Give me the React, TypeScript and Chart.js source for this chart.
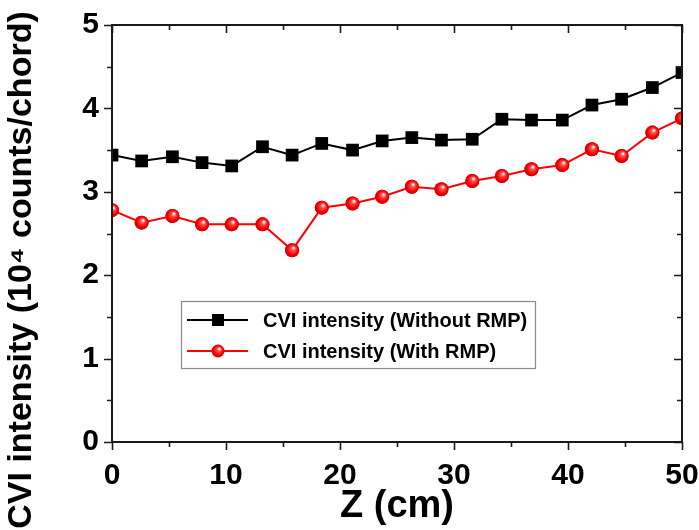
import React, { useEffect, useRef } from "react";
import { Chart, registerables } from "chart.js";

Chart.register(...registerables);

const zValues = [0, 2.6, 5.3, 7.9, 10.5, 13.2, 15.8, 18.4, 21.1, 23.7, 26.3, 28.9, 31.6, 34.2, 36.8, 39.5, 42.1, 44.7, 47.4, 50];
const withoutRmp = [3.44, 3.37, 3.42, 3.35, 3.31, 3.54, 3.44, 3.58, 3.5, 3.61, 3.65, 3.62, 3.63, 3.87, 3.86, 3.86, 4.04, 4.11, 4.25, 4.43];
const withRmp = [2.78, 2.63, 2.71, 2.61, 2.61, 2.61, 2.3, 2.81, 2.86, 2.94, 3.06, 3.03, 3.13, 3.19, 3.27, 3.32, 3.51, 3.43, 3.71, 3.88];

const seriesLabels = ["CVI intensity (Without RMP)", "CVI intensity (With RMP)"];
const xMajorTicks = [0, 10, 20, 30, 40, 50];
const xMinorTicks = [5, 15, 25, 35, 45];
const yMajorTicks = [0, 1, 2, 3, 4, 5];
const yMinorTicks = [0.5, 1.5, 2.5, 3.5, 4.5];
const xTitle = "Z (cm)";
const yTitle = "CVI intensity (10\u2074 counts/chord)";

const FONT = "'Liberation Sans', Arial, sans-serif";

function sphere(ctx2d: CanvasRenderingContext2D, x: number, y: number, r: number) {
  const g = ctx2d.createRadialGradient(x + r * 0.25, y - r * 0.35, r * 0.05, x, y, r);
  g.addColorStop(0, "#ffffff");
  g.addColorStop(0.3, "#ff4a4a");
  g.addColorStop(0.75, "#f00000");
  g.addColorStop(1, "#d00000");
  return g;
}

const spherePlugin = {
  id: "sphere",
  afterDatasetsDraw(chart: any) {
    const { ctx, chartArea } = chart;
    const meta = chart.getDatasetMeta(1);
    ctx.save();
    ctx.beginPath();
    ctx.rect(chartArea.left - 1, chartArea.top - 1, chartArea.right - chartArea.left + 2, chartArea.bottom - chartArea.top + 2);
    ctx.clip();
    meta.data.forEach((pt: any) => {
      const { x, y } = pt.getProps(["x", "y"], true);
      if (!isFinite(x) || !isFinite(y)) return;
      const r = pt.options.radius;
      ctx.beginPath();
      ctx.arc(x, y, r, 0, Math.PI * 2);
      ctx.fillStyle = sphere(ctx, x, y, r);
      ctx.fill();
    });
    ctx.restore();
  },
};

const framePlugin = {
  id: "frame",
  afterDatasetsDraw(chart: any) {
    const { ctx, chartArea, scales } = chart;
    const { left, right, top, bottom } = chartArea;
    const xs = scales.x;
    const ys = scales.y;
    ctx.save();
    ctx.strokeStyle = "#1a1a1a";
    ctx.lineWidth = 2;
    ctx.strokeRect(left, top, right - left, bottom - top);
    ctx.lineWidth = 1.6;
    const major = 8;
    const minor = 5;
    const drawX = (v: number, len: number) => {
      const px = Math.round(xs.getPixelForValue(v)) + 0.5;
      ctx.beginPath();
      ctx.moveTo(px, bottom);
      ctx.lineTo(px, bottom + len);
      ctx.moveTo(px, top);
      ctx.lineTo(px, top + len);
      ctx.stroke();
    };
    const drawY = (v: number, len: number) => {
      const py = Math.round(ys.getPixelForValue(v)) + 0.5;
      ctx.beginPath();
      ctx.moveTo(left, py);
      ctx.lineTo(left - len, py);
      ctx.moveTo(right, py);
      ctx.lineTo(right - len, py);
      ctx.stroke();
    };
    xMajorTicks.forEach((v) => drawX(v, major));
    xMinorTicks.forEach((v) => drawX(v, minor));
    yMajorTicks.forEach((v) => drawY(v, major));
    yMinorTicks.forEach((v) => drawY(v, minor));

    // y axis title
    ctx.save();
    ctx.translate(22, 270);
    ctx.rotate(-Math.PI / 2);
    ctx.fillStyle = "#000";
    ctx.font = `bold 34px ${FONT}`;
    ctx.textAlign = "center";
    ctx.textBaseline = "middle";
    ctx.fillText(yTitle, 0, 0);
    ctx.restore();
    ctx.restore();
  },
};

const legendPlugin = {
  id: "customLegend",
  afterDraw(chart: any) {
    const { ctx } = chart;
    const bx = 181, by = 301, bw = 354, bh = 67;
    ctx.save();
    ctx.fillStyle = "#fff";
    ctx.fillRect(bx, by, bw, bh);
    ctx.strokeStyle = "#8a8a8a";
    ctx.lineWidth = 1.2;
    ctx.strokeRect(bx + 0.5, by + 0.5, bw, bh);
    const rows = [by + 19, by + 50];
    chart.data.datasets.forEach((ds: any, i: number) => {
      const y = rows[i];
      ctx.strokeStyle = ds.borderColor;
      ctx.lineWidth = 2;
      ctx.beginPath();
      ctx.moveTo(bx + 6, y);
      ctx.lineTo(bx + 67, y);
      ctx.stroke();
      const mx = bx + 37;
      if (i === 0) {
        ctx.fillStyle = "#000";
        ctx.fillRect(mx - 6, y - 6, 12, 12);
      } else {
        ctx.beginPath();
        ctx.arc(mx, y, 6.5, 0, Math.PI * 2);
        ctx.fillStyle = sphere(ctx, mx, y, 6.5);
        ctx.fill();
      }
      ctx.fillStyle = "#000";
      ctx.font = `bold 20px ${FONT}`;
      ctx.textBaseline = "middle";
      ctx.textAlign = "left";
      ctx.fillText(ds.label, bx + 82, y + 1);
    });
    ctx.restore();
  },
};

export default function App() {
  const ref = useRef<HTMLCanvasElement | null>(null);
  useEffect(() => {
    if (!ref.current) return;
    const chart = new Chart(ref.current, {
      type: "line",
      data: {
        datasets: [
          {
            label: seriesLabels[0],
            data: zValues.map((z, i) => ({ x: z, y: withoutRmp[i] })),
            borderColor: "#000",
            backgroundColor: "#000",
            borderWidth: 2,
            pointStyle: "rect",
            pointRadius: 9,
            pointBackgroundColor: "#000",
            pointBorderWidth: 0,
            tension: 0,
          },
          {
            label: seriesLabels[1],
            data: zValues.map((z, i) => ({ x: z, y: withRmp[i] })),
            borderColor: "#ff0000",
            backgroundColor: "#ff0000",
            borderWidth: 2,
            pointStyle: "circle",
            pointRadius: 7,
            pointBorderWidth: 0,
            pointBackgroundColor: "#ff0000",
            tension: 0,
          },
        ],
      },
      options: {
        animation: false,
        responsive: false,
        events: [],
        layout: { padding: { left: 0, top: 25, right: 17, bottom: 0 } },
        plugins: { legend: { display: false }, tooltip: { enabled: false } },
        scales: {
          x: {
            type: "linear",
            min: 0,
            max: 50,
            grid: { display: false, drawTicks: false },
            border: { display: false },
            ticks: {
              stepSize: 10,
              color: "#000",
              padding: 16,
              maxRotation: 0,
              font: { family: FONT, size: 30, weight: "bold" },
            },
            title: {
              display: true,
              text: xTitle,
              color: "#000",
              font: { family: FONT, size: 38, weight: "bold" },
              padding: { top: 0, bottom: 1 },
            },
            afterFit: (s: any) => {
              s.height = 88;
              s.paddingLeft = 0;
              s.paddingRight = 0;
            },
          },
          y: {
            min: 0,
            max: 5,
            grid: { display: false, drawTicks: false },
            border: { display: false },
            ticks: {
              stepSize: 1,
              color: "#000",
              padding: 13,
              font: { family: FONT, size: 30, weight: "bold" },
            },
            title: { display: false },
            afterFit: (s: any) => {
              s.width = 112;
              s.paddingTop = 0;
              s.paddingBottom = 0;
            },
          },
        },
      },
      plugins: [spherePlugin, framePlugin, legendPlugin],
    } as any);
    return () => chart.destroy();
  }, []);
  return (
    <div style={{ position: "fixed", left: 0, top: 0, width: 699, height: 530, background: "#fff" }}>
      <canvas ref={ref} width={699} height={530} style={{ display: "block" }} />
    </div>
  );
}
